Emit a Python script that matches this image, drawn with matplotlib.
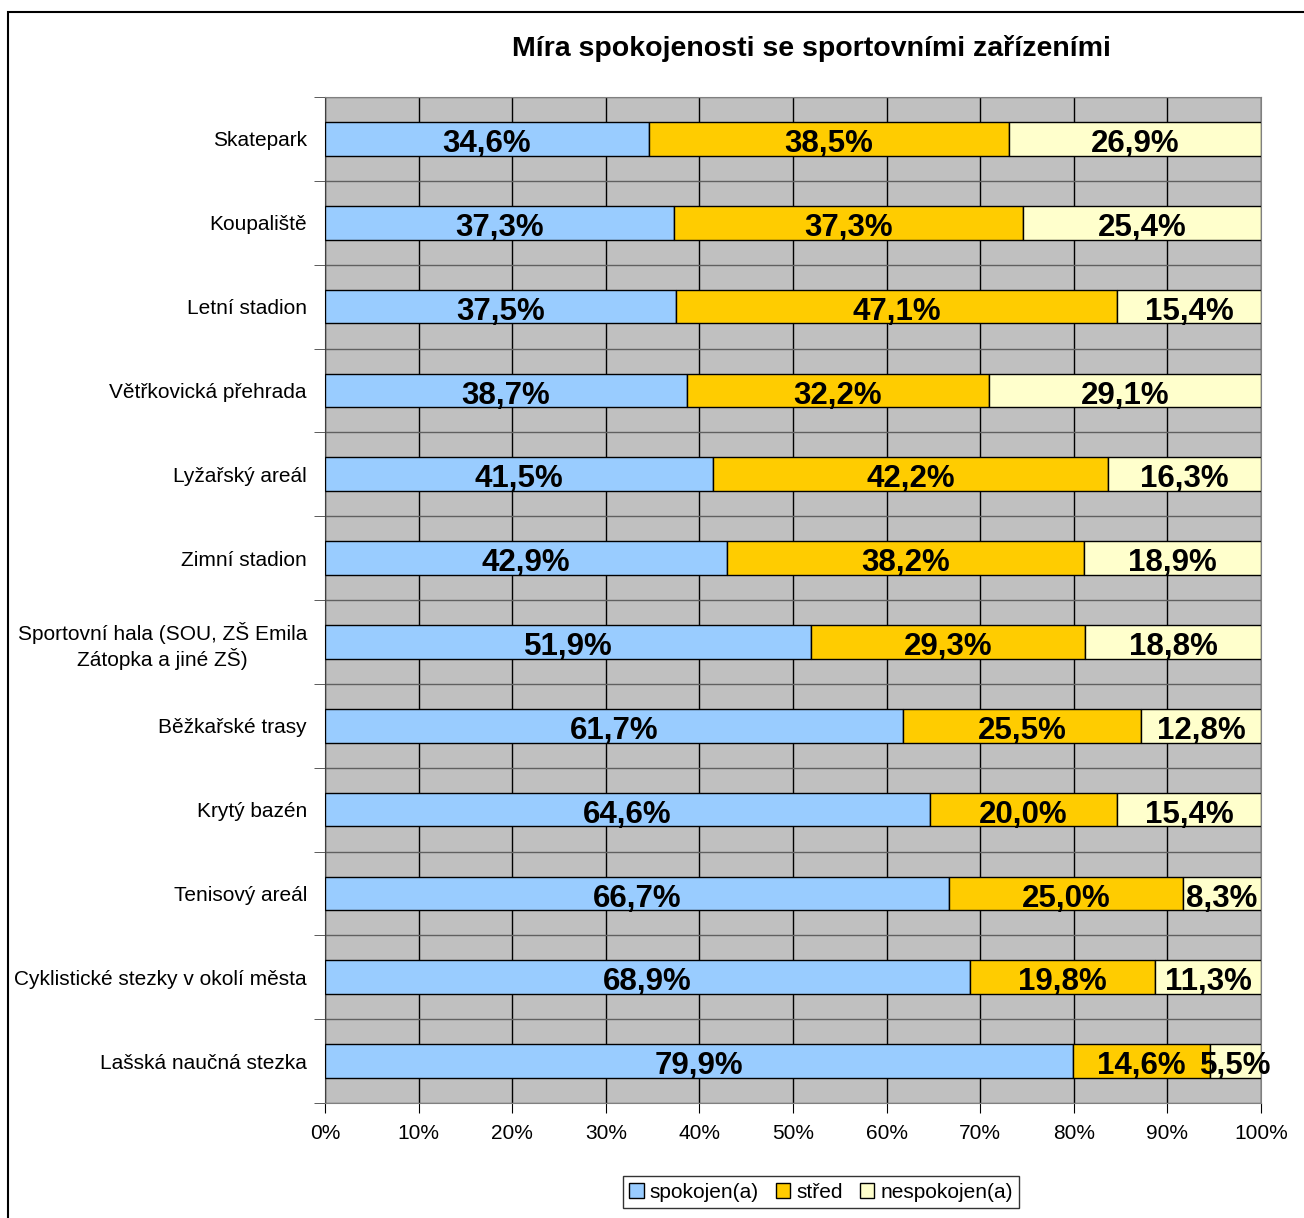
import matplotlib.pyplot as plt
import numpy as np
from matplotlib.patches import Rectangle

plt.rcParams['font.family'] = ['Liberation Sans', 'DejaVu Sans']

### Data

categories = [
    "Skatepark",
    "Koupaliště",
    "Letní stadion",
    "Větřkovická přehrada",
    "Lyžařský areál",
    "Zimní stadion",
    "Sportovní hala (SOU, ZŠ Emila\nZátopka a jiné ZŠ)",
    "Běžkařské trasy",
    "Krytý bazén",
    "Tenisový areál",
    "Cyklistické stezky v okolí města",
    "Lašská naučná stezka",
]
spokojen = [34.6, 37.3, 37.5, 38.7, 41.5, 42.9, 51.9, 61.7, 64.6, 66.7, 68.9, 79.9]
stred = [38.5, 37.3, 47.1, 32.2, 42.2, 38.2, 29.3, 25.5, 20.0, 25.0, 19.8, 14.6]
nespokojen = [26.9, 25.4, 15.4, 29.1, 16.3, 18.9, 18.8, 12.8, 15.4, 8.3, 11.3, 5.5]
series_names = ["spokojen(a)", "střed", "nespokojen(a)"]
colors = ["#99CCFF", "#FFCC00", "#FFFFCC"]
xticks = np.arange(0, 101, 10)

### Figure

fig = plt.figure(figsize=(13.04, 12.18), dpi=100)
W, H = 1304, 1218
ax = fig.add_axes([325 / W, 1 - 1103 / H, (1261 - 325) / W, (1103 - 97) / H])
ax.set_facecolor("#C0C0C0")

# outer chart frame
fig.patches.append(Rectangle((8 / W, -0.1), 1.2, 1 - 12 / H + 0.1,
                             transform=fig.transFigure, fill=False,
                             edgecolor="black", linewidth=1.5))

n = len(categories)
y = np.arange(n)
left = np.zeros(n)
for vals, name, col in zip([spokojen, stred, nespokojen], series_names, colors):
    vals = np.array(vals)
    ax.barh(y, vals, left=left, height=0.4, color=col, edgecolor="black",
            linewidth=1.0, label=name, zorder=3)
    for yi, l, v in zip(y, left, vals):
        ax.text(l + v / 2, yi + 0.02, f"{v:.1f}%".replace(".", ","), ha="center",
                va="center_baseline", fontsize=22.5, fontweight="bold", zorder=4)
    left = left + vals

ax.set_xlim(0, 100)
ax.set_ylim(n - 0.5, -0.5)
ax.set_xticks(xticks)
ax.set_xticklabels([f"{t}%" for t in xticks], fontsize=15)
ax.set_yticks(y)
ax.set_yticklabels(categories, fontsize=15, multialignment="center")
ax.set_yticks(np.arange(n + 1) - 0.5, minor=True)
ax.tick_params(axis="y", which="major", length=0, pad=13)
ax.tick_params(axis="y", which="minor", length=8, direction="out", color="#404040")
ax.tick_params(axis="x", length=7, direction="out", pad=8)

ax.xaxis.grid(True, color="black", linewidth=1.0, zorder=1)
ax.yaxis.grid(True, which="minor", color="#606060", linewidth=1.0, zorder=1)
ax.set_axisbelow(True)
for s in ["top", "right"]:
    ax.spines[s].set_color("#808080")
ax.spines["left"].set_color("#404040")
ax.spines["bottom"].set_color("#808080")

fig.text(811 / W, 1 - 48 / H, "Míra spokojenosti se sportovními zařízeními",
         ha="center", va="center", fontsize=20.5, fontweight="bold")

leg = fig.legend(loc="center", bbox_to_anchor=(821 / W, 1 - 1192 / H), ncol=3,
                 fontsize=15, frameon=True, fancybox=False, edgecolor="black",
                 handlelength=0.7, handleheight=0.7, handletextpad=0.3,
                 columnspacing=0.8, borderpad=0.3)
leg.get_frame().set_linewidth(1.0)

fig.savefig("out.png", dpi=100)
